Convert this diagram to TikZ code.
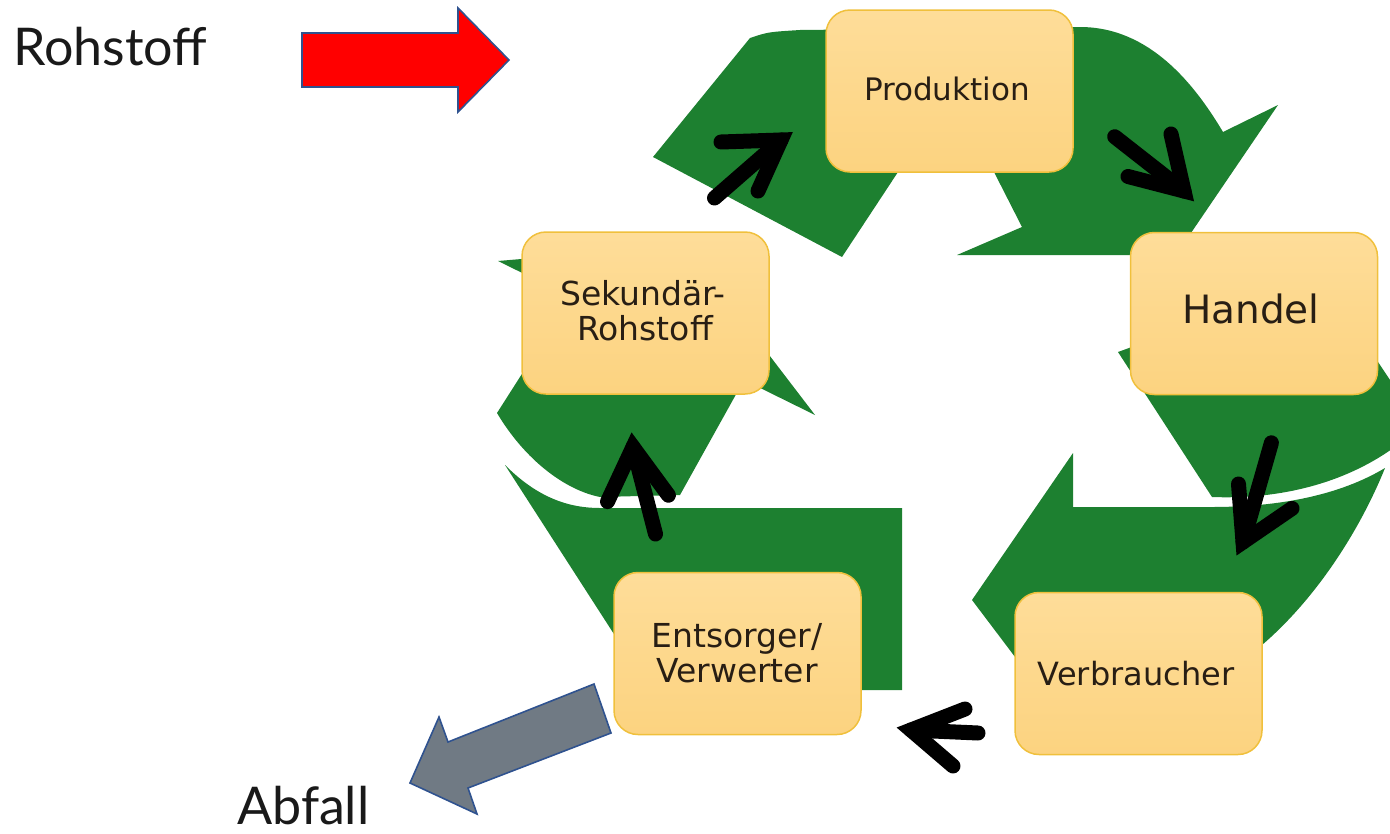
\documentclass[tikz,border=0pt]{standalone}
\usepackage{fontspec}
\setmainfont{Lato}
\newfontfamily\boxfont{DejaVu Sans}
\definecolor{leaf}{RGB}{29,128,48}
\definecolor{boxtop}{RGB}{254,221,153}
\definecolor{boxbot}{RGB}{252,211,128}
\definecolor{boxline}{RGB}{240,192,60}
\definecolor{ink}{RGB}{40,30,20}
\definecolor{outlineblue}{RGB}{47,82,143}
\definecolor{waste}{RGB}{112,122,132}
\begin{document}
\begin{tikzpicture}[x=1pt,y=-1pt,
  stage/.style={draw=boxline, line width=1.5pt, rounded corners=24pt,
    top color=boxtop, bottom color=boxbot,
    minimum width=247pt, minimum height=162pt, inner sep=0pt},
  stagetext/.style={font=\boxfont\fontsize{#1}{#1}\selectfont, text=ink,
    inner sep=0pt, anchor=base},
  band/.style={fill=leaf},
  flow/.style={draw=black, line width=15pt, line cap=round, line join=miter},
  bigarrow/.style={draw=outlineblue, line width=1.6pt, line join=miter},
  caption/.style={font=\fontsize{52}{60}\selectfont, text=black!90,
    inner sep=0pt, anchor=base west}
]
\useasboundingbox (0,0) rectangle (1390,833);
\clip (0,0) rectangle (1390,833);

% ---- recycling loop: three folded green bands ----
% top band (tail cut at lower left, head towards Handel)
\fill[band] (653,157) -- (750,38) .. controls (768,32) .. (800,30)
  -- (1080,27) .. controls (1150,27) and (1195,85) .. (1223,132)
  -- (1278,105) -- (1176,255) -- (957,255) -- (1022,227)
  -- (994,172) -- (946,150) -- (898,172) -- (842,257) -- cycle;
% right band, upper part
\fill[band] (1118,352) -- (1140,344) -- (1360,335) -- (1400,395) -- (1400,443)
  .. controls (1355,478) and (1290,500) .. (1212,497) -- cycle;
% right band, lower part with head
\fill[band] (1212,507) -- (1073,507) -- (1073,453) -- (972,600) -- (1040,690)
  -- (1240,690) -- (1262,645) .. controls (1320,595) and (1362,525) .. (1385,468)
  .. controls (1340,495) and (1280,507) .. (1212,507) -- cycle;
% left band, lower part (tail cut on the right)
\fill[band] (505,465) .. controls (535,495) and (565,508) .. (600,508)
  -- (902,508) -- (902,690) -- (650,690) -- cycle;
% left band, upper part with head
\fill[band] (498,261) -- (685,245) -- (815,415) -- (744,380) -- (680,495)
  -- (600,497) .. controls (565,490) and (525,460) .. (497,413)
  -- (571,297) -- cycle;

% ---- stages ----
\node[stage] (prod) at (949.5,91) {};
\node[stage] (handel) at (1254,313.5) {};
\node[stage] (sek) at (645.5,313) {};
\node[stage] (ents) at (737.5,653.5) {};
\node[stage] (verb) at (1138.5,673.5) {};

\node[stagetext=31] (prodtxt) at (947,100) {Produktion};
\node[stagetext=39] (handtxt) at (1251,323) {Handel};
\node[stagetext=33] (sektxta) at (643,305) {Sekundär-};
\node[stagetext=33] (sektxtb) at (645,340) {Rohstoff};
\node[stagetext=33] (enttxta) at (737,647) {Entsorger/};
\node[stagetext=33] (enttxtb) at (737,682) {Verwerter};
\node[stagetext=32] (verbtxt) at (1136,685) {Verbraucher};

% ---- black flow arrows between the stages ----
\coordinate (f1t) at (714.5,198);  \coordinate (f1v) at (781,140);
\coordinate (f1a) at (721,142);    \coordinate (f1b) at (758,191);
\coordinate (f2t) at (1114.7,136.7); \coordinate (f2v) at (1184,191);
\coordinate (f2a) at (1128,176.5);   \coordinate (f2b) at (1171,134);
\coordinate (f3t) at (1271.4,442.8); \coordinate (f3v) at (1243,542);
\coordinate (f3a) at (1238.5,484);   \coordinate (f3b) at (1292,508.4);
\coordinate (f4t) at (978,733);    \coordinate (f4v) at (911,730);
\coordinate (f4a) at (965,709);    \coordinate (f4b) at (953,766);
\coordinate (f5t) at (655.5,534);  \coordinate (f5v) at (633,447);
\coordinate (f5a) at (607.5,501.6);  \coordinate (f5b) at (668.4,495.2);
\foreach \k in {1,...,5}{
  \draw[flow] (f\k t) -- (f\k v);
  \draw[flow] (f\k a) -- (f\k v) -- (f\k b);
}

% ---- raw material in, waste out ----
\node[caption] (rohtxt) at (13,65) {Rohstoff};
\node[caption] (abftxt) at (237,824) {Abfall};
\fill[red, bigarrow] (302,33) -- (458,33) -- (458,8) -- (509,60)
  -- (458,112) -- (458,87) -- (302,87) -- cycle;
\fill[waste, bigarrow] (594,684) -- (611,733) -- (468,788) -- (477,814)
  -- (410,783) -- (439,717) -- (448,742) -- cycle;
\end{tikzpicture}
\end{document}
